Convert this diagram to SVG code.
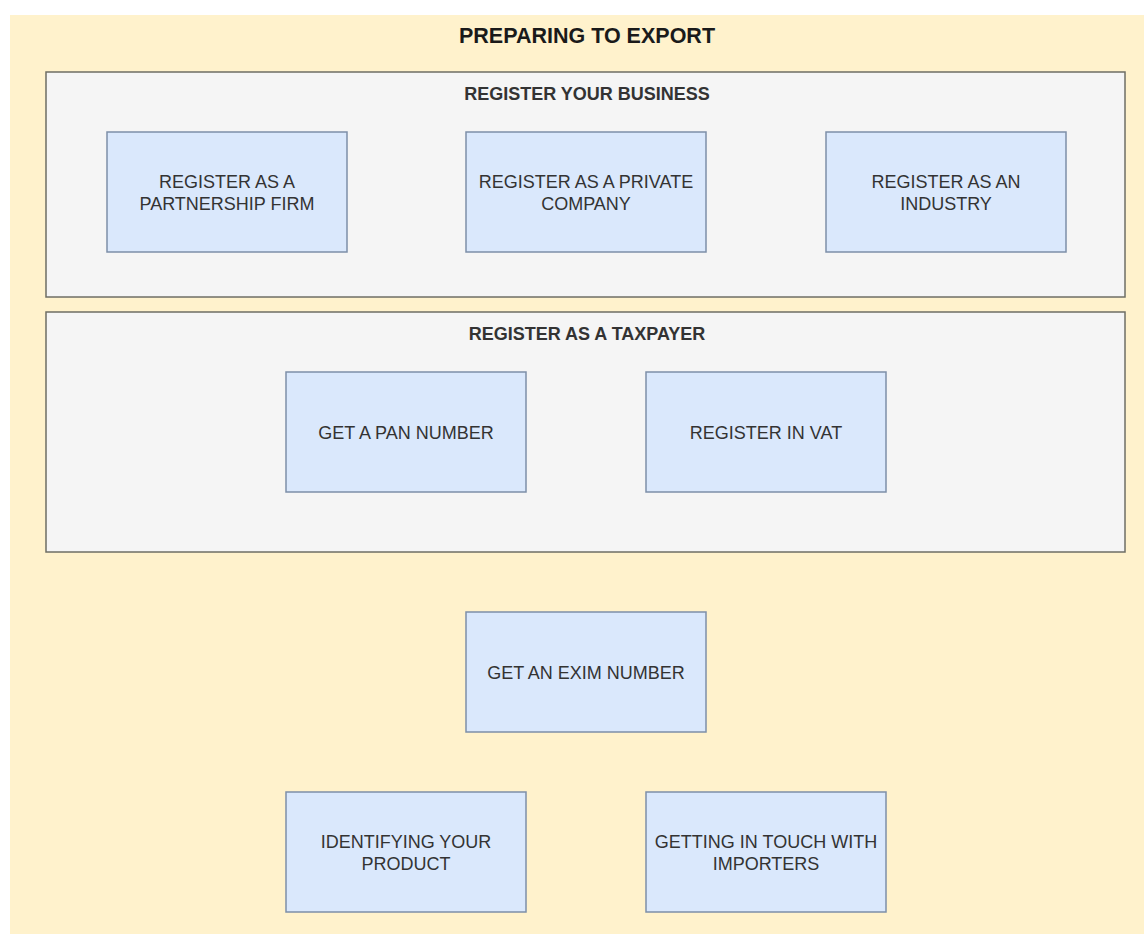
<svg xmlns="http://www.w3.org/2000/svg" width="1144" height="934" viewBox="0 0 1144 934">
<style>
.node rect{fill:#dae8fc;stroke:#7d8fa8;stroke-width:1.5}
.node text{font-family:"Liberation Sans",Arial,sans-serif;font-size:18px;fill:#333;text-anchor:middle}
.grp rect{fill:#f5f5f5;stroke:#6e6e64;stroke-width:1.5}
.grp text{font-family:"Liberation Sans",Arial,sans-serif;font-size:18px;font-weight:bold;fill:#333;text-anchor:middle}
</style>
<rect x="0" y="0" width="1144" height="934" fill="#ffffff"/>
<g id="preparing">
<rect x="10" y="15" width="1134" height="919" fill="#fff2cc"/>
<text x="587" y="43" font-family="'Liberation Sans',Arial,sans-serif" font-size="21.5" font-weight="bold" fill="#1a1a1a" text-anchor="middle">PREPARING TO EXPORT</text>
</g>
<g id="register-business" class="grp">
<rect x="46" y="72" width="1079" height="225"/>
<text x="587" y="100">REGISTER YOUR BUSINESS</text>
</g>
<g id="register-taxpayer" class="grp">
<rect x="46" y="312" width="1079" height="240"/>
<text x="587" y="340">REGISTER AS A TAXPAYER</text>
</g>
<g id="partnership" class="node">
<rect x="107" y="132" width="240" height="120"/>
<text x="227" y="188">REGISTER AS A</text>
<text x="227" y="210">PARTNERSHIP FIRM</text>
</g>
<g id="private" class="node">
<rect x="466" y="132" width="240" height="120"/>
<text x="586" y="188">REGISTER AS A PRIVATE</text>
<text x="586" y="210">COMPANY</text>
</g>
<g id="industry" class="node">
<rect x="826" y="132" width="240" height="120"/>
<text x="946" y="188">REGISTER AS AN</text>
<text x="946" y="210">INDUSTRY</text>
</g>
<g id="pan" class="node">
<rect x="286" y="372" width="240" height="120"/>
<text x="406" y="439">GET A PAN NUMBER</text>
</g>
<g id="vat" class="node">
<rect x="646" y="372" width="240" height="120"/>
<text x="766" y="439">REGISTER IN VAT</text>
</g>
<g id="exim" class="node">
<rect x="466" y="612" width="240" height="120"/>
<text x="586" y="679">GET AN EXIM NUMBER</text>
</g>
<g id="product" class="node">
<rect x="286" y="792" width="240" height="120"/>
<text x="406" y="848">IDENTIFYING YOUR</text>
<text x="406" y="870">PRODUCT</text>
</g>
<g id="importers" class="node">
<rect x="646" y="792" width="240" height="120"/>
<text x="766" y="848">GETTING IN TOUCH WITH</text>
<text x="766" y="870">IMPORTERS</text>
</g>
<g id="connectors"></g>
</svg>
